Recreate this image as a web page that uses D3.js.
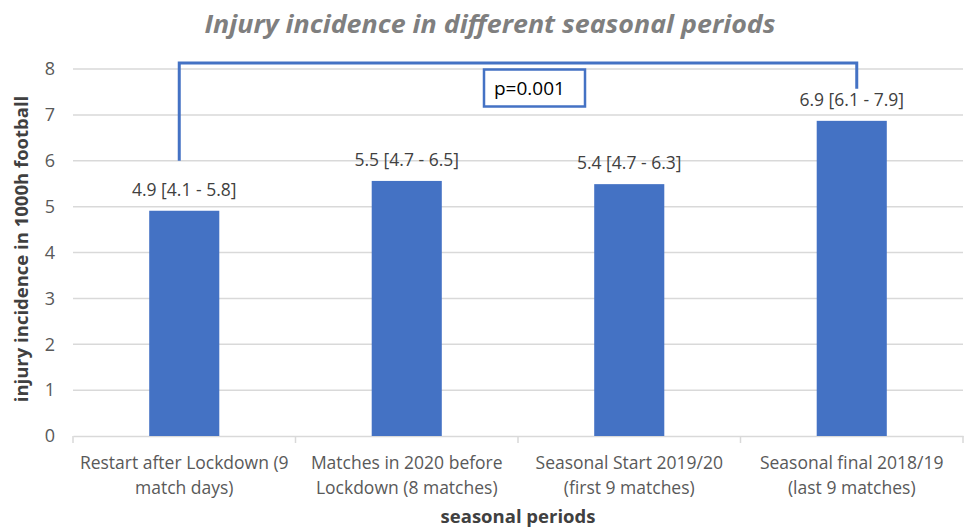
<!DOCTYPE html>
<html>
<head>
<meta charset="utf-8">
<script src="https://cdn.jsdelivr.net/npm/d3@7"></script>
<style>
  body { margin: 0; background: #fff; }
  text { font-family: "Open Sans", "Noto Sans", sans-serif; }
</style>
</head>
<body>
<div id="chart"></div>
<script>
// Data
const categories = [
    ["Restart after Lockdown (9", "match days)"],
    ["Matches in 2020 before", "Lockdown (8 matches)"],
    ["Seasonal Start 2019/20", "(first 9 matches)"],
    ["Seasonal final 2018/19", "(last 9 matches)"]
];
const values = [4.91, 5.56, 5.49, 6.87];
const valueLabels = ["4.9 [4.1 - 5.8]", "5.5 [4.7 - 6.5]", "5.4 [4.7 - 6.3]", "6.9 [6.1 - 7.9]"];
const yTicks = [0, 1, 2, 3, 4, 5, 6, 7, 8];
const pText = "p=0.001";

// Set up dimensions
const W = 964, H = 530;
const margin = { top: 69, right: 1, bottom: 94, left: 73 },
      width = W - margin.left - margin.right,
      height = H - margin.top - margin.bottom;

const svg = d3.select("#chart")
    .append("svg")
    .attr("width", W)
    .attr("height", H);

// Title
svg.append("text")
    .attr("x", 490)
    .attr("y", 33)
    .attr("text-anchor", "middle")
    .attr("font-size", 25)
    .attr("font-weight", "bold")
    .attr("font-style", "italic")
    .attr("fill", "#7f7f7f")
    .attr("textLength", 571)
    .attr("lengthAdjust", "spacingAndGlyphs")
    .text("Injury incidence in different seasonal periods");

const g = svg.append("g")
    .attr("transform", `translate(${margin.left},${margin.top})`);

const idx = categories.map((d, i) => i);

const x = d3.scaleBand()
    .domain(idx)
    .range([0, width])
    .padding(0);

const y = d3.scaleLinear()
    .domain([0, 8])
    .range([height, 0]);

// Gridlines
g.selectAll(".grid")
    .data(yTicks.slice(1))
    .enter()
    .append("line")
    .attr("x1", 0)
    .attr("x2", width)
    .attr("y1", d => y(d))
    .attr("y2", d => y(d))
    .attr("stroke", "#d9d9d9")
    .attr("stroke-width", 1.5);

// Y axis labels
const yAxis = g.append("g")
    .call(d3.axisLeft(y).tickValues(yTicks).tickSize(0).tickPadding(18));
yAxis.select(".domain").remove();
yAxis.selectAll("text")
    .attr("font-size", 18)
    .attr("fill", "#595959")
    .attr("font-family", "Open Sans, sans-serif");

// X axis
const xAxis = g.append("g")
    .attr("transform", `translate(0,${height})`)
    .call(d3.axisBottom(x).tickSize(0).tickFormat(""));
xAxis.select(".domain")
    .attr("stroke", "#d9d9d9")
    .attr("stroke-width", 1.5);
g.selectAll(".xtick")
    .data(d3.range(categories.length + 1))
    .enter()
    .append("line")
    .attr("x1", d => d * x.step())
    .attr("x2", d => d * x.step())
    .attr("y1", height)
    .attr("y2", height + 7)
    .attr("stroke", "#d9d9d9")
    .attr("stroke-width", 1.5);

// Category labels
const catLabels = g.selectAll(".cat")
    .data(categories)
    .enter()
    .append("text")
    .attr("class", "cat")
    .attr("text-anchor", "middle")
    .attr("font-size", 17.5)
    .attr("fill", "#595959");
catLabels.each(function (d, i) {
    d3.select(this).selectAll("tspan")
        .data(d)
        .enter()
        .append("tspan")
        .attr("x", x(i) + x.bandwidth() / 2)
        .attr("y", (l, j) => height + 33 + j * 25)
        .text(l => l);
});

// Bars
const barW = x.bandwidth() * 0.315;
g.selectAll(".bar")
    .data(values)
    .enter()
    .append("rect")
    .attr("class", "bar")
    .attr("x", (d, i) => x(i) + (x.bandwidth() - barW) / 2)
    .attr("width", barW)
    .attr("y", d => y(d))
    .attr("height", d => height - y(d))
    .attr("fill", "#4472c4");

// Value labels
g.selectAll(".vlabel")
    .data(valueLabels)
    .enter()
    .append("text")
    .attr("text-anchor", "middle")
    .attr("x", (d, i) => x(i) + x.bandwidth() / 2)
    .attr("y", (d, i) => y(values[i]) - 15)
    .attr("font-size", 17.5)
    .attr("fill", "#404040")
    .text(d => d);

// Significance bracket between first and last periods
const bx1 = x(0) + x.bandwidth() / 2 - 5;
const bx2 = x(3) + x.bandwidth() / 2 + 5;
const bTop = y(8.13);
g.append("path")
    .attr("d", `M${bx1},${y(6)} L${bx1},${bTop} L${bx2},${bTop} L${bx2},${y(7.57)}`)
    .attr("fill", "none")
    .attr("stroke", "#4472c4")
    .attr("stroke-width", 3);

// p value box
g.append("rect")
    .attr("x", 484 - margin.left)
    .attr("y", y(8) + 0.5)
    .attr("width", 101)
    .attr("height", 37)
    .attr("fill", "#fff")
    .attr("stroke", "#4472c4")
    .attr("stroke-width", 2.5);
g.append("text")
    .attr("x", 494 - margin.left)
    .attr("y", y(8) + 26)
    .attr("font-size", 19)
    .attr("fill", "#000")
    .text(pText);

// Axis titles
svg.append("text")
    .attr("transform", `translate(28,249) rotate(-90)`)
    .attr("text-anchor", "middle")
    .attr("font-size", 18.5)
    .attr("font-weight", "bold")
    .attr("fill", "#404040")
    .text("injury incidence in 1000h football");

svg.append("text")
    .attr("x", 518)
    .attr("y", 523)
    .attr("text-anchor", "middle")
    .attr("font-size", 18.5)
    .attr("font-weight", "bold")
    .attr("fill", "#404040")
    .text("seasonal periods");
</script>
</body>
</html>
